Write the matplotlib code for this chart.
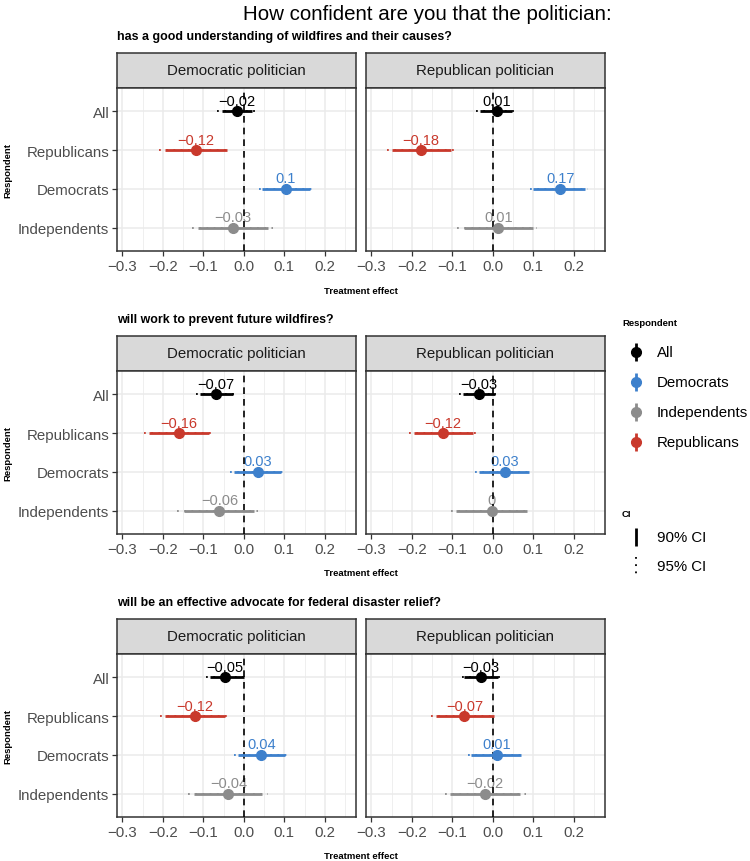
import numpy as np
import matplotlib
matplotlib.use("Agg")
import matplotlib.pyplot as plt

plt.rcParams['font.family'] = ['Liberation Sans', 'DejaVu Sans']

# Data: [question][politician][group]
questions = [
    "has a good understanding of wildfires and their causes?",
    "will work to prevent future wildfires?",
    "will be an effective advocate for federal disaster relief?",
]
politicians = ["Democratic politician", "Republican politician"]
groups = ["All", "Republicans", "Democrats", "Independents"]

est = [
    [[-0.016, -0.119, 0.104, -0.026], [0.010, -0.177, 0.167, 0.014]],
    [[-0.068, -0.161, 0.034, -0.060], [-0.034, -0.123, 0.029, -0.002]],
    [[-0.047, -0.120, 0.043, -0.038], [-0.029, -0.070, 0.010, -0.019]],
]
lo90 = [
    [[-0.055, -0.195, 0.045, -0.113], [-0.031, -0.250, 0.100, -0.072]],
    [[-0.108, -0.235, -0.025, -0.147], [-0.074, -0.195, -0.033, -0.090]],
    [[-0.084, -0.194, -0.014, -0.123], [-0.070, -0.139, -0.053, -0.105]],
]
hi90 = [
    [[0.020, -0.041, 0.163, 0.060], [0.047, -0.102, 0.228, 0.100]],
    [[-0.026, -0.086, 0.093, 0.025], [0.006, -0.050, 0.090, 0.084]],
    [[0.000, -0.047, 0.102, 0.045], [0.014, 0.002, 0.070, 0.066]],
]
lo95 = [
    [[-0.066, -0.209, 0.037, -0.127], [-0.041, -0.262, 0.091, -0.088]],
    [[-0.117, -0.247, -0.035, -0.164], [-0.083, -0.207, -0.043, -0.103]],
    [[-0.093, -0.206, -0.025, -0.138], [-0.076, -0.152, -0.062, -0.119]],
]
hi95 = [
    [[0.027, -0.032, 0.172, 0.071], [0.052, -0.088, 0.236, 0.110]],
    [[-0.020, -0.072, 0.098, 0.035], [0.008, -0.035, 0.094, 0.093]],
    [[0.002, -0.033, 0.109, 0.060], [0.018, 0.004, 0.074, 0.081]],
]

colors = {"All": "black", "Republicans": "#C9392C",
          "Democrats": "#3D80CC", "Independents": "#8C8C8C"}
xticks = [-0.3, -0.2, -0.1, 0.0, 0.1, 0.2]

W, H = 750, 862
fig = plt.figure(figsize=(W / 100, H / 100), dpi=100)


def box(x0, y0, x1, y1):
    # pixel box -> figure fraction rect
    return [x0 / W, 1 - y1 / H, (x1 - x0) / W, (y1 - y0) / H]


def fmt(v):
    s = '%g' % (round(v, 2) + 0.0)
    return s.replace('-', '\u2212')


fig.text(243 / W, 1 - 14 / H, "How confident are you that the politician:",
         fontsize=14.8, ha='left', va='center', color='black')

panel_tops = [89, 372, 655]
panel_h = 163
panel_x = [(117, 356), (366, 605)]
ypos = np.arange(len(groups))[::-1] + 1

for q, question in enumerate(questions):
    top = panel_tops[q]
    bottom = top + panel_h
    fig.text(117 / W, 1 - (top - 52) / H, question, fontsize=8.9,
             fontweight='bold', ha='left', va='center')
    fig.text(8 / W, 1 - (top + bottom) / 2 / H, "Respondent", fontsize=6.8,
             fontweight='bold', rotation=90, ha='center', va='center')
    fig.text(361 / W, 1 - (bottom + 39) / H, "Treatment effect", fontsize=6.8,
             fontweight='bold', ha='center', va='center')

    for p, pol in enumerate(politicians):
        x0, x1 = panel_x[p]
        # strip
        sax = fig.add_axes(box(x0, top - 35, x1, top))
        sax.set_facecolor('#D9D9D9')
        sax.set_xticks([])
        sax.set_yticks([])
        for sp in sax.spines.values():
            sp.set_color('#333333')
            sp.set_linewidth(1.1)
        sax.text(0.5, 0.5, pol, transform=sax.transAxes, ha='center',
                 va='center', fontsize=10.8, color='#1A1A1A')

        ax = fig.add_axes(box(x0, top, x1, bottom))
        ax.set_xlim(-0.313, 0.277)
        ax.set_ylim(0.4, 4.6)
        ax.set_xticks(xticks)
        ax.set_xticks([-0.25, -0.15, -0.05, 0.05, 0.15, 0.25], minor=True)
        ax.set_xticklabels([fmt(t) if t != 0 else "0.0" for t in xticks])
        ax.set_yticks(ypos)
        ax.grid(True, which='major', color='#EBEBEB', lw=1.1, zorder=0)
        ax.grid(True, which='minor', axis='x', color='#EBEBEB', lw=0.55, zorder=0)
        ax.set_axisbelow(True)
        ax.tick_params(axis='both', which='major', length=3.5, width=0.9,
                       color='#333333', labelcolor='#4D4D4D', labelsize=10.8, pad=2)
        ax.tick_params(which='minor', length=0)
        if p == 0:
            ax.set_yticklabels(groups)
        else:
            ax.set_yticklabels([])
            ax.tick_params(axis='y', length=0)
        for sp in ax.spines.values():
            sp.set_color('#333333')
            sp.set_linewidth(1.1)

        for g, grp in enumerate(groups):
            c = colors[grp]
            y = ypos[g]
            ax.plot([lo95[q][p][g], hi95[q][p][g]], [y, y], color=c, lw=1.3,
                    linestyle=(0, (1, 3)), solid_capstyle='butt', zorder=5)
            ax.plot([lo90[q][p][g], hi90[q][p][g]], [y, y], color=c, lw=2.0,
                    solid_capstyle='butt', zorder=6)
            ax.plot(est[q][p][g], y, 'o', color=c, markersize=7, zorder=7)
            ax.annotate(fmt(est[q][p][g]), (est[q][p][g], y),
                        xytext=(0, 7.5), textcoords='offset points',
                        ha='center', va='center', fontsize=10.5, color=c, zorder=3)
        ax.axvline(0, color='black', lw=1.2, linestyle=(0, (4, 3)), zorder=4)

# legend drawn by hand
lax = fig.add_axes(box(610, 310, 750, 580))
lax.set_xlim(610, 750)
lax.set_ylim(580, 310)
lax.axis('off')
lax.text(622, 324, "Respondent", fontsize=6.8, fontweight='bold', ha='left', va='center')
legend_order = ["All", "Democrats", "Independents", "Republicans"]
for i, grp in enumerate(legend_order):
    yy = 353 + 30 * i
    lax.plot([636, 636], [yy - 9, yy + 9], color=colors[grp], lw=2.0, solid_capstyle='butt')
    lax.plot(636, yy, 'o', color=colors[grp], markersize=7)
    lax.text(657, yy, grp, fontsize=10.8, ha='left', va='center')
lax.text(622, 515, "CI", fontsize=6.8, fontweight='bold', ha='left', va='center')
lax.plot([636, 636], [529, 547], color='black', lw=2.0, solid_capstyle='butt')
lax.text(657, 538, "90% CI", fontsize=10.8, ha='left', va='center')
lax.plot([636, 636], [558, 576], color='black', lw=1.3, linestyle=(0, (1, 3)))
lax.text(657, 567, "95% CI", fontsize=10.8, ha='left', va='center')

fig.savefig("out.png", dpi=100)
